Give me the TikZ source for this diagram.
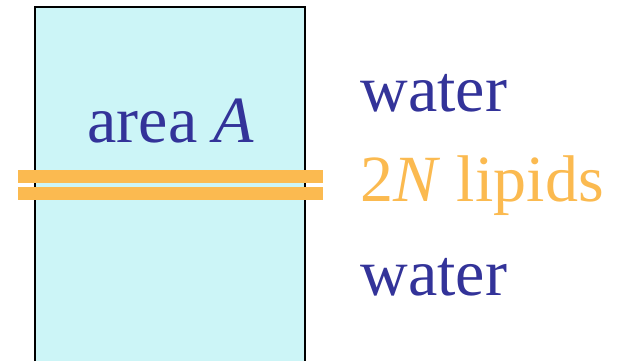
\documentclass[tikz,border=0pt]{standalone}
\usepackage{fontspec}
\setmainfont{Liberation Serif}
\usetikzlibrary{positioning}
\definecolor{waterblue}{RGB}{51,51,153}
\definecolor{lipid}{RGB}{251,186,80}
\definecolor{cell}{RGB}{204,245,247}

\begin{document}
\begin{tikzpicture}[x=.5pt,y=-.5pt,
 lbl/.style={inner sep=0pt,anchor=base west,font=\fontsize{33}{36}\selectfont},
 bar/.style={fill=lipid,draw=none}]
\useasboundingbox (0,0) rectangle (621,361);
% box of water, open at the bottom
\fill[cell] (35,7) rectangle (305,361);
\draw[line width=1.2pt] (35,361) -- (35,7) -- (305,7) -- (305,361);
% the two leaflets
\fill[bar] (18,170) rectangle (322.7,182.7);
\fill[bar] (18,187.3) rectangle (322.7,200);
\node[lbl,anchor=base,text=waterblue] (area) at (171,142.7) {area \textit{A}};
\node[lbl,text=waterblue] (wtop) at (360,111.7) {water};
\node[lbl,text=lipid] (lip) at (360,201.7) {2\textit{N} lipids};
\node[lbl,text=waterblue] (wbot) at (360,295) {water};
\end{tikzpicture}
\end{document}
